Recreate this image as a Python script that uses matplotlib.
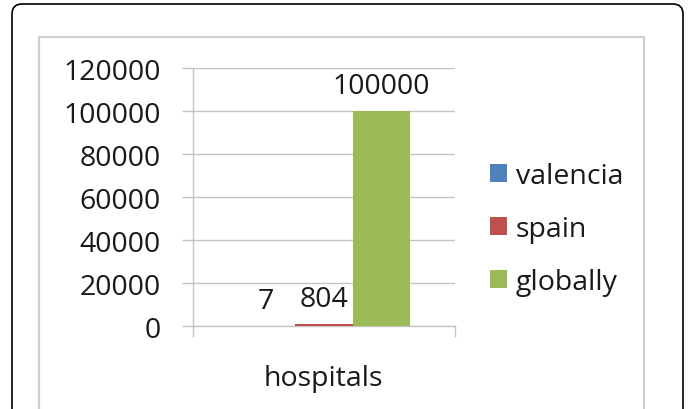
import matplotlib.pyplot as plt
from matplotlib.patches import FancyBboxPatch, Rectangle
import numpy as np

category = 'hospitals'
series = ['valencia', 'spain', 'globally']
values = [7, 804, 100000]
colors = ['#4F81BD', '#C0504D', '#9BBB59']

plt.rcParams['font.family'] = ['Open Sans', 'DejaVu Sans']
txt = '#1a1a1a'
grid_col = '#c4c4c4'

fig = plt.figure(figsize=(6.89, 4.10), dpi=100)

# outer rounded frame and inner grey chart border (both run off the bottom edge)
fig.patches.append(FancyBboxPatch((0.12, -0.3), 6.71, 4.35, boxstyle='round,pad=0,rounding_size=0.1',
                                  transform=fig.dpi_scale_trans, fill=False, ec='black', lw=1.2))
fig.patches.append(Rectangle((0.39, -0.3), 6.05, 4.02, transform=fig.dpi_scale_trans,
                             fill=False, ec='#cfcfcf', lw=1.6))

ax = fig.add_axes([0.280, 0.2024, 0.380, 0.6293])

width = 0.22
offsets = (np.arange(len(series)) - 1) * width
for off, v, c, name in zip(offsets, values, colors, series):
    ax.bar(off, v, width, color=c, label=name, zorder=3)
    ax.annotate(str(v), (off, v), xytext=(0, 8), textcoords='offset points',
                ha='center', va='bottom', fontsize=20.5, color=txt)

ax.set_xlim(-0.5, 0.5)
ax.set_ylim(0, 120000)
ax.set_yticks(np.arange(0, 120001, 20000))
ax.yaxis.grid(True, color=grid_col, lw=1.0, zorder=0)

ax.set_xticks([0])
ax.set_xticklabels([category])
ax.set_xticks([-0.5, 0.5], minor=True)
ax.tick_params(axis='x', which='major', length=0, pad=27, labelsize=20.5, labelcolor=txt)
ax.tick_params(axis='x', which='minor', length=8, color=grid_col, width=1.0)
ax.tick_params(axis='y', length=8, color=grid_col, width=1.0, pad=15, labelsize=20.5, labelcolor=txt)

for s in ['top', 'right']:
    ax.spines[s].set_visible(False)
for s in ['left', 'bottom']:
    ax.spines[s].set_color(grid_col)
    ax.spines[s].set_linewidth(1.0)

fig.legend(loc='center left', bbox_to_anchor=(490 / 689, 1 - 230 / 410), frameon=False,
           fontsize=20.5, handlelength=0.6, handleheight=0.6, handletextpad=0.3,
           labelspacing=0.88, borderaxespad=0, borderpad=0, labelcolor=txt)

fig.savefig('out.png', dpi=100)
